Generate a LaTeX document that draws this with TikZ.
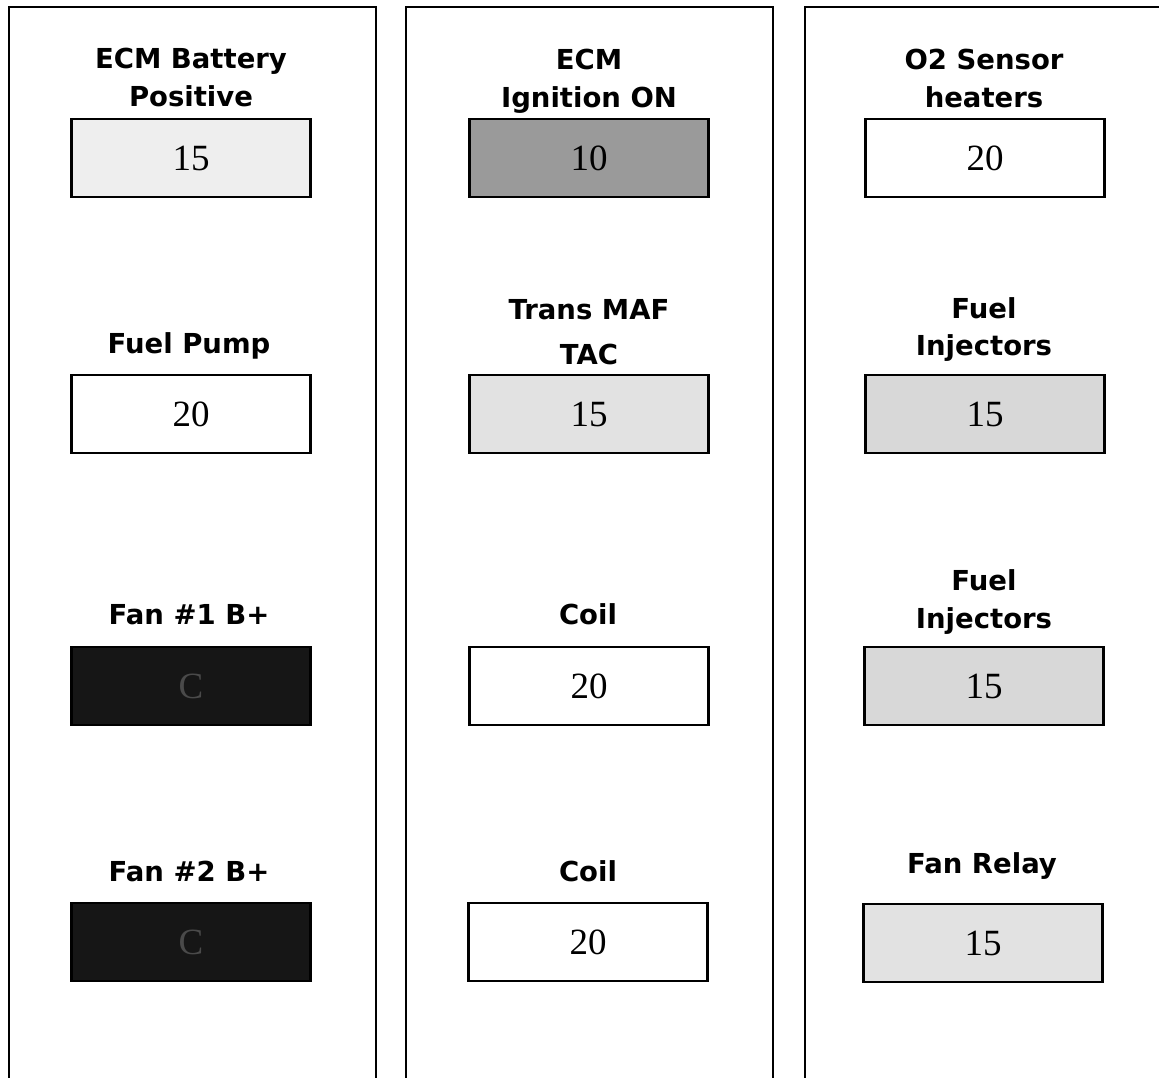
\documentclass[tikz,border=0pt]{standalone}
\usepackage{fontspec}
\setmainfont{Liberation Serif}
\newfontfamily\labfont{DejaVu Sans}
\definecolor{lightA}{HTML}{EEEEEE}
\definecolor{lightB}{HTML}{E2E2E2}
\definecolor{lightC}{HTML}{D8D8D8}
\definecolor{midG}{HTML}{9A9A9A}
\definecolor{darkG}{HTML}{161616}
\definecolor{faintT}{HTML}{4A4A4A}
\tikzset{
  colframe/.style={line width=2.2pt, draw=black},
  fusebox/.style={draw=black, line width=2.8pt, minimum width=239pt, minimum height=78pt, inner sep=0pt,
    font=\fontsize{37}{37}\selectfont},
  lab/.style={anchor=base, inner sep=0pt, font=\labfont\bfseries\fontsize{27.5}{27.5}\selectfont},
}
\begin{document}
\begin{tikzpicture}[x=1pt,y=-1pt]
\useasboundingbox (0,0) rectangle (1159,1078);
% column frames (open at the bottom)
\draw[colframe] (9,1079) -- (9,7) -- (376,7) -- (376,1079);
\draw[colframe] (406,1079) -- (406,7) -- (773,7) -- (773,1079);
\draw[colframe] (805,1079) -- (805,7) -- (1160,7);

% left column
\node[lab] (la1) at (191,69) {ECM Battery};
\node[lab] (la2) at (191,107) {Positive};
\node[fusebox, fill=lightA] (ba) at (191,158) {15};
\node[lab] (lb1) at (189,353) {Fuel Pump};
\node[fusebox, fill=white] (bb) at (191,414) {20};
\node[lab] (lc1) at (189,624) {Fan \#1 B+};
\node[fusebox, fill=darkG, text=faintT] (bc) at (191,686) {C};
\node[lab] (ld1) at (189,881) {Fan \#2 B+};
\node[fusebox, fill=darkG, text=faintT] (bd) at (191,942) {C};

% middle column
\node[lab] (le1) at (589,70) {ECM};
\node[lab] (le2) at (589,108) {Ignition ON};
\node[fusebox, fill=midG] (be) at (589,158) {10};
\node[lab] (lf1) at (589,319) {Trans MAF};
\node[lab] (lf2) at (589,364) {TAC};
\node[fusebox, fill=lightB] (bf) at (589,414) {15};
\node[lab] (lg1) at (588,624) {Coil};
\node[fusebox, fill=white] (bg) at (589,686) {20};
\node[lab] (lh1) at (588,881) {Coil};
\node[fusebox, fill=white] (bh) at (588,942) {20};

% right column
\node[lab] (li1) at (984,70) {O2 Sensor};
\node[lab] (li2) at (984,108) {heaters};
\node[fusebox, fill=white] (bi) at (985,158) {20};
\node[lab] (lj1) at (984,318) {Fuel};
\node[lab] (lj2) at (984,355) {Injectors};
\node[fusebox, fill=lightC] (bj) at (985,414) {15};
\node[lab] (lk1) at (984,590) {Fuel};
\node[lab] (lk2) at (984,628) {Injectors};
\node[fusebox, fill=lightC] (bk) at (984,686) {15};
\node[lab] (ll1) at (982,873) {Fan Relay};
\node[fusebox, fill=lightB] (bl) at (983,943) {15};
\end{tikzpicture}
\end{document}
